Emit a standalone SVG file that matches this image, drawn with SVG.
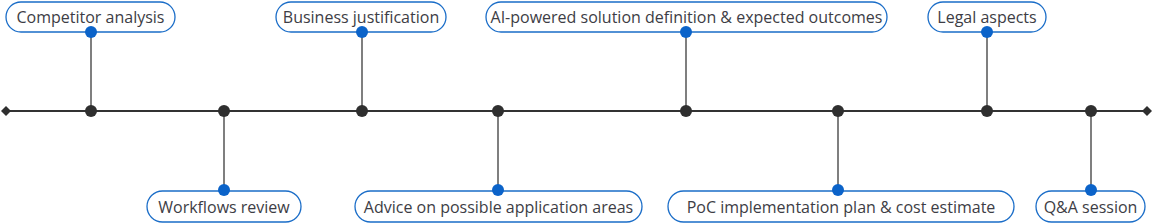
<svg xmlns="http://www.w3.org/2000/svg" width="1152" height="224" viewBox="0 0 1152 224">
<style>
.box{fill:#fff;stroke:#1a6dc8;stroke-width:1.3}
.lbl{font-family:"Open Sans",sans-serif;font-size:16px;fill:#3d3d45;text-anchor:middle}
.bdot{fill:#0b63c9}
.tdot{fill:#2f2f2f}
.stem{stroke:#555;stroke-width:1.5;fill:none}
.axis{stroke:#333;stroke-width:2;fill:none}
</style>
<rect width="1152" height="224" fill="#fff"/>
<g id="connectors">
<line class="axis" x1="6" y1="111" x2="1147" y2="111"/>
<path class="tdot" d="M1 111 L6 106 L11 111 L6 116 Z"/>
<path class="tdot" d="M1142 111 L1147 106 L1152 111 L1147 116 Z"/>
<line class="stem" x1="91" y1="32" x2="91" y2="111"/>
<line class="stem" x1="224" y1="111" x2="224" y2="190"/>
<line class="stem" x1="362" y1="32" x2="362" y2="111"/>
<line class="stem" x1="498" y1="111" x2="498" y2="190"/>
<line class="stem" x1="686" y1="32" x2="686" y2="111"/>
<line class="stem" x1="838" y1="111" x2="838" y2="190"/>
<line class="stem" x1="987" y1="32" x2="987" y2="111"/>
<line class="stem" x1="1091" y1="111" x2="1091" y2="190"/>
<circle class="tdot" cx="91" cy="111" r="6"/>
<circle class="tdot" cx="224" cy="111" r="6"/>
<circle class="tdot" cx="362" cy="111" r="6"/>
<circle class="tdot" cx="498" cy="111" r="6"/>
<circle class="tdot" cx="686" cy="111" r="6"/>
<circle class="tdot" cx="838" cy="111" r="6"/>
<circle class="tdot" cx="987" cy="111" r="6"/>
<circle class="tdot" cx="1091" cy="111" r="6"/>
</g>
<g id="n1"><rect class="box" x="6" y="2" width="169" height="30" rx="15"/><text class="lbl" x="90.5" y="23">Competitor analysis</text><circle class="bdot" cx="91" cy="32" r="6"/></g>
<g id="n2"><rect class="box" x="147" y="191" width="154" height="31" rx="15.5"/><text class="lbl" x="224" y="213">Workflows review</text><circle class="bdot" cx="224" cy="190" r="6"/></g>
<g id="n3"><rect class="box" x="276" y="2" width="170" height="30" rx="15"/><text class="lbl" x="361" y="23">Business justification</text><circle class="bdot" cx="362" cy="32" r="6"/></g>
<g id="n4"><rect class="box" x="355" y="191" width="287" height="31" rx="15.5"/><text class="lbl" x="498.5" y="213">Advice on possible application areas</text><circle class="bdot" cx="498" cy="190" r="6"/></g>
<g id="n5"><rect class="box" x="486" y="2" width="401" height="30" rx="15"/><text class="lbl" x="686.5" y="23">AI-powered solution definition &amp; expected outcomes</text><circle class="bdot" cx="686" cy="32" r="6"/></g>
<g id="n6"><rect class="box" x="668" y="191" width="346" height="31" rx="15.5"/><text class="lbl" x="841" y="213">PoC implementation plan &amp; cost estimate</text><circle class="bdot" cx="838" cy="190" r="6"/></g>
<g id="n7"><rect class="box" x="928" y="2" width="118" height="30" rx="15"/><text class="lbl" x="987" y="23">Legal aspects</text><circle class="bdot" cx="987" cy="32" r="6"/></g>
<g id="n8"><rect class="box" x="1036" y="191" width="109" height="31" rx="15.5"/><text class="lbl" x="1090.5" y="213">Q&amp;A session</text><circle class="bdot" cx="1091" cy="190" r="6"/></g>
</svg>
